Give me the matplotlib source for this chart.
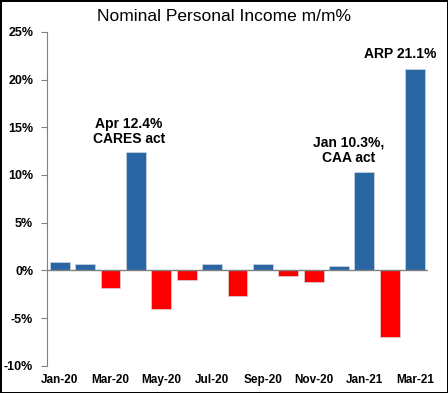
import matplotlib.pyplot as plt

plt.rcParams['font.family'] = ['Liberation Sans', 'DejaVu Sans']

months = ['Jan-20', 'Feb-20', 'Mar-20', 'Apr-20', 'May-20', 'Jun-20', 'Jul-20', 'Aug-20',
          'Sep-20', 'Oct-20', 'Nov-20', 'Dec-20', 'Jan-21', 'Feb-21', 'Mar-21']
values = [0.9, 0.7, -1.8, 12.4, -4.0, -1.0, 0.7, -2.7, 0.7, -0.6, -1.2, 0.5, 10.3, -7.0, 21.1]
yticks = [-10, -5, 0, 5, 10, 15, 20, 25]

fig = plt.figure(figsize=(4.48, 3.93), dpi=100)
fig.patch.set_edgecolor('black')
fig.patch.set_linewidth(2)
ax = fig.add_axes([0.105, 0.069, 0.85, 0.85])

x = list(range(len(values)))
colors = ['#2966A3' if v >= 0 else '#FF0000' for v in values]
ax.bar(x, values, width=0.78, color=colors, edgecolor='#d0d8e0', linewidth=0.5)
ax.axhline(0, color='#808080', lw=1)

ax.set_xlim(-0.5, 14.5)
ax.set_ylim(-10, 25)
ax.set_yticks(yticks)
ax.set_yticklabels([f'{t}%' for t in yticks], fontsize=9, fontweight='bold')
ax.set_xticks(x[::2])
ax.set_xticklabels(months[::2], fontsize=8.5, fontweight='bold')
ax.tick_params(axis='x', length=0, pad=6)
ax.tick_params(axis='y', length=4, color='#808080', direction='out', pad=6)
for s in ['top', 'right', 'bottom']:
    ax.spines[s].set_visible(False)
ax.spines['left'].set_color('#808080')

fig.suptitle('Nominal Personal Income m/m%', fontsize=12.5, y=0.978)

ax.text(2.72, 13.0, 'Apr 12.4%\nCARES act', ha='center', va='bottom', fontsize=10,
        fontweight='bold', linespacing=1.15)
ax.text(11.37, 11.0, 'Jan 10.3%,\nCAA act', ha='center', va='bottom', fontsize=10,
        fontweight='bold', linespacing=1.15)
ax.text(13.4, 21.9, 'ARP 21.1%', ha='center', va='bottom', fontsize=10, fontweight='bold')

fig.savefig('out.png', dpi=100)
